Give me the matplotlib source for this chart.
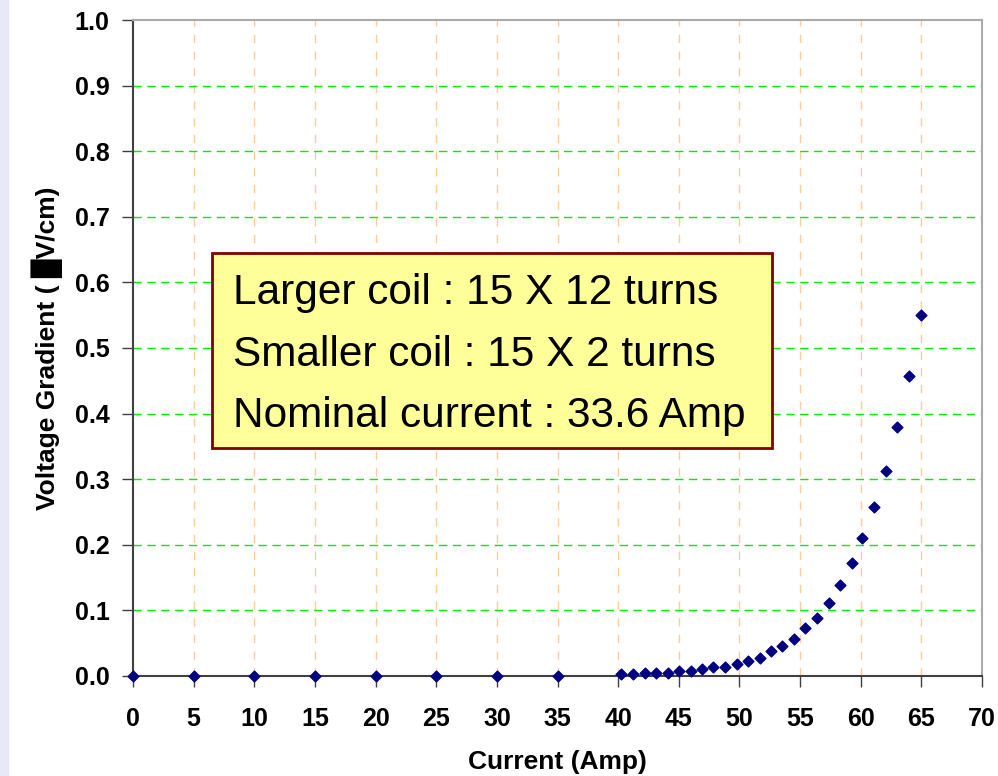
import matplotlib
matplotlib.use('Agg')
import matplotlib.pyplot as plt
from matplotlib.patches import Rectangle

# Data
current_low = [0, 5, 10, 15, 20, 25, 30, 35]
gradient_low = [0, 0, 0, 0, 0, 0, 0, 0]
current_high = [40.2, 41.2, 42.2, 43.1, 44.1, 45.0, 46.0, 46.9, 47.8, 48.8,
                49.8, 50.7, 51.7, 52.6, 53.5, 54.5, 55.4, 56.4, 57.4, 58.3,
                59.3, 60.1, 61.1, 62.1, 63.0, 64.0, 65.0]
gradient_high = [0.003, 0.003, 0.005, 0.005, 0.005, 0.008, 0.008, 0.011, 0.013, 0.014,
                 0.018, 0.023, 0.028, 0.038, 0.046, 0.056, 0.073, 0.089, 0.112, 0.139,
                 0.172, 0.211, 0.258, 0.313, 0.379, 0.457, 0.550]
x_ticks = list(range(0, 71, 5))
y_ticks = [i / 10 for i in range(11)]
box_lines = ["Larger coil : 15 X 12 turns",
             "Smaller coil : 15 X 2 turns",
             "Nominal current : 33.6 Amp"]

plt.rcParams['font.family'] = ['Liberation Sans', 'DejaVu Sans']

fig = plt.figure(figsize=(9.98, 7.76), dpi=100)
fig.patches.append(Rectangle((0, 0), 0.008, 1, transform=fig.transFigure,
                             color='#E8E8F8', zorder=0))
ax = fig.add_axes([0.1333, 0.1289, 0.8507, 0.8453])

x_all = current_low + current_high
y_all = gradient_low + gradient_high
ax.scatter(x_all, y_all, marker='D', s=30, color='#000080', zorder=5, clip_on=False)

ax.set_xlim(0, 70)
ax.set_ylim(0, 1.0)
ax.set_xticks(x_ticks)
ax.set_yticks(y_ticks)
ax.set_yticklabels([f"{v:.1f}" for v in y_ticks])

for v in x_ticks[1:-1]:
    ax.axvline(v, color='#FFCC99', linestyle=(0, (6, 6)), linewidth=1, zorder=1)
for v in y_ticks[1:-1]:
    ax.axhline(v, color='#00EE00', linestyle=(0, (6, 4)), linewidth=1, zorder=1)

for s in ['left', 'bottom']:
    ax.spines[s].set_color('#404040')
    ax.spines[s].set_linewidth(1.5)
for s in ['top', 'right']:
    ax.spines[s].set_color('#AAAAAA')
    ax.spines[s].set_linewidth(1.5)

ax.tick_params(axis='both', direction='out', length=8, width=1, color='#404040',
               labelsize=18)
ax.tick_params(axis='y', pad=9)
ax.tick_params(axis='x', pad=14)
for lbl in ax.get_xticklabels() + ax.get_yticklabels():
    lbl.set_fontweight('bold')

ax.set_xlabel("Current (Amp)", fontsize=19, fontweight='bold', va='center')
ax.set_ylabel("Voltage Gradient ( \u2588V/cm)", fontsize=19, fontweight='bold', va='center')
ax.xaxis.set_label_coords(0.5, -0.131)
ax.yaxis.set_label_coords(-0.101, 0.5)

# Annotation box
ax.add_patch(Rectangle((0.093, 0.3476), 0.6597, 0.2972, transform=ax.transAxes,
                       facecolor='#FFFF99', edgecolor='#800000', linewidth=2, zorder=6))
for i, line in enumerate(box_lines):
    ax.text(0.118, 0.584 - i * 0.094, line, transform=ax.transAxes, fontsize=30.5,
            va='center', ha='left', zorder=7)

fig.savefig('out.png', dpi=100)
